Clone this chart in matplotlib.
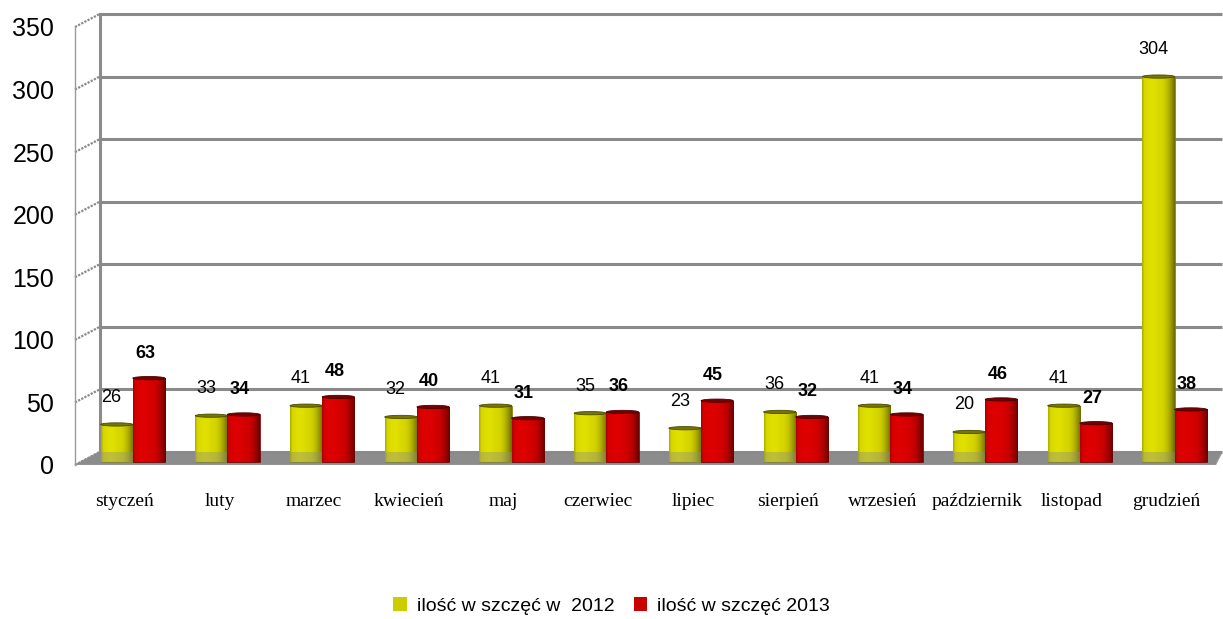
import matplotlib
matplotlib.use("Agg")
import matplotlib.pyplot as plt
import matplotlib.transforms as mtransforms
import numpy as np
from matplotlib.patches import Patch, Polygon, Ellipse

months = ["styczeń", "luty", "marzec", "kwiecień", "maj", "czerwiec",
          "lipiec", "sierpień", "wrzesień", "październik", "listopad", "grudzień"]
values_2012 = [26, 33, 41, 32, 41, 35, 23, 36, 41, 20, 41, 304]
values_2013 = [63, 34, 48, 40, 31, 36, 45, 32, 34, 46, 27, 38]
series_labels = ["ilość w szczęć w  2012", "ilość w szczęć 2013"]
yticks = [0, 50, 100, 150, 200, 250, 300, 350]

YELLOW = "#d6d600"
RED = "#d40000"
GRID = "#8a8a8a"
DEPTH = 10.4      # depth of the pseudo-3D floor in data units
WALL_X = -0.35    # x of back wall
FRONT_X = -0.61   # x of front edge
RIGHT_X = 11.5
BAR_W = 0.34
SINK = 4          # bars sink into the floor a bit


def shade_bar(ax, patch, rgb, trans):
    x0, y0 = patch.get_xy()
    w, h = patch.get_width(), patch.get_height()
    t = np.linspace(0, 1, 64)
    light = 1.0 + 0.05 * np.exp(-((t - 0.3) ** 2) / 0.03)
    dark = 1.0 - 0.5 * np.clip((t - 0.55) / 0.45, 0, 1) ** 2 - 0.2 * np.clip((0.07 - t) / 0.07, 0, 1)
    f = light * dark
    col = np.clip(np.outer(f, rgb), 0, 1)[None, :, :]
    im = ax.imshow(col, extent=[x0, x0 + w, y0, y0 + h], aspect="auto",
                   interpolation="bilinear", zorder=patch.get_zorder() + 0.1, transform=trans)
    im.set_clip_path(patch)
    top = Ellipse((x0 + w / 2, y0 + h), w, 2.6, transform=trans,
                  facecolor=tuple(np.clip(np.array(rgb) * 0.55, 0, 1)),
                  edgecolor=tuple(np.array(rgb) * 0.35), lw=0.6, zorder=patch.get_zorder() + 0.2)
    ax.add_patch(top)


fig = plt.figure(figsize=(12.23, 6.19), dpi=100)
ax = fig.add_axes([75 / 1223, 1 - 465 / 619, 1147 / 1223, 451 / 619])

x = np.arange(len(months))
# bars stand in the middle of the floor depth, a few pixels in front of the back wall
bar_trans = ax.transData + mtransforms.ScaledTranslation(0, -5 / 100, fig.dpi_scale_trans)

floor_pts = [(FRONT_X, -DEPTH), (WALL_X, 0), (RIGHT_X, 0), (RIGHT_X - 0.07, -DEPTH)]
ax.add_patch(Polygon(floor_pts, closed=True, facecolor="#8c8c8c", edgecolor="#a0a0a0",
                     lw=1, zorder=1))

# back wall grid + left wall
for v in yticks:
    ax.plot([WALL_X, RIGHT_X], [v, v], color=GRID, lw=2.2, zorder=1.5,
            solid_capstyle="butt", clip_on=False)
    ax.plot([FRONT_X, WALL_X], [v - DEPTH, v], color="#8a8a8a", lw=1.6,
            ls=(0, (1, 0.6)), zorder=1.5, clip_on=False)
ax.plot([WALL_X, WALL_X], [0, yticks[-1]], color=GRID, lw=2.2, zorder=1.5, clip_on=False)
ax.plot([FRONT_X, FRONT_X], [-DEPTH, yticks[-1] - DEPTH], color="#9a9a9a", lw=1.0,
        zorder=1.5, clip_on=False)

rgb_y = matplotlib.colors.to_rgb(YELLOW)
rgb_r = matplotlib.colors.to_rgb(RED)
bars_y = ax.bar(x - BAR_W / 2, np.array(values_2012) + SINK, bottom=-SINK, width=BAR_W,
                color=YELLOW, edgecolor="#6a6a00", lw=0.5, zorder=2, transform=bar_trans)
# translucent floor over the yellow bars' feet
ax.add_patch(Polygon(floor_pts, closed=True, facecolor="#8c8c8c", edgecolor="none",
                     alpha=0.4, zorder=2.5))
bars_r = ax.bar(x + BAR_W / 2, np.array(values_2013) + SINK, bottom=-SINK, width=BAR_W,
                color=RED, edgecolor="#600000", lw=0.5, zorder=3, transform=bar_trans)
for p in bars_y:
    shade_bar(ax, p, rgb_y, bar_trans)
for p in bars_r:
    shade_bar(ax, p, rgb_r, bar_trans)

for xi, v in zip(x, values_2012):
    ax.annotate(str(v), (xi - BAR_W / 2, v), xytext=(-5, 22), textcoords="offset pixels",
                ha="center", va="center", fontsize=13, family="Liberation Sans", zorder=6)
for xi, v in zip(x, values_2013):
    ax.annotate(str(v), (xi + BAR_W / 2, v), xytext=(-4, 20), textcoords="offset pixels",
                ha="center", va="center", fontsize=13, fontweight="bold",
                family="Liberation Sans", zorder=6)

ax.set_xlim(FRONT_X, RIGHT_X)
ax.set_ylim(-DEPTH, 350)
for s in ax.spines.values():
    s.set_visible(False)

ax.set_xticks(x)
ax.set_xticklabels(months, family="Liberation Serif", fontsize=14)
ax.tick_params(axis="x", length=0, pad=20)
shift_x = mtransforms.ScaledTranslation(-8 / 100, 0, fig.dpi_scale_trans)
for lab in ax.get_xticklabels():
    lab.set_transform(lab.get_transform() + shift_x)

ax.set_yticks(yticks)
ax.set_yticklabels([str(v) for v in yticks], family="Liberation Sans", fontsize=18)
ax.tick_params(axis="y", length=0, pad=15)
shift_y = mtransforms.ScaledTranslation(0, -13 / 100, fig.dpi_scale_trans)
for lab in ax.get_yticklabels():
    lab.set_transform(lab.get_transform() + shift_y)

handles = [Patch(facecolor="#cccc00", edgecolor="none"),
           Patch(facecolor="#c80000", edgecolor="none")]
fig.legend(handles, series_labels, loc="center", bbox_to_anchor=(0.5, 1 - 606 / 619),
           ncol=2, frameon=False, handlelength=0.7, handleheight=0.7, handletextpad=0.5,
           columnspacing=1.0, prop={"family": "Liberation Sans", "size": 14})

fig.savefig("out.png", dpi=100)
